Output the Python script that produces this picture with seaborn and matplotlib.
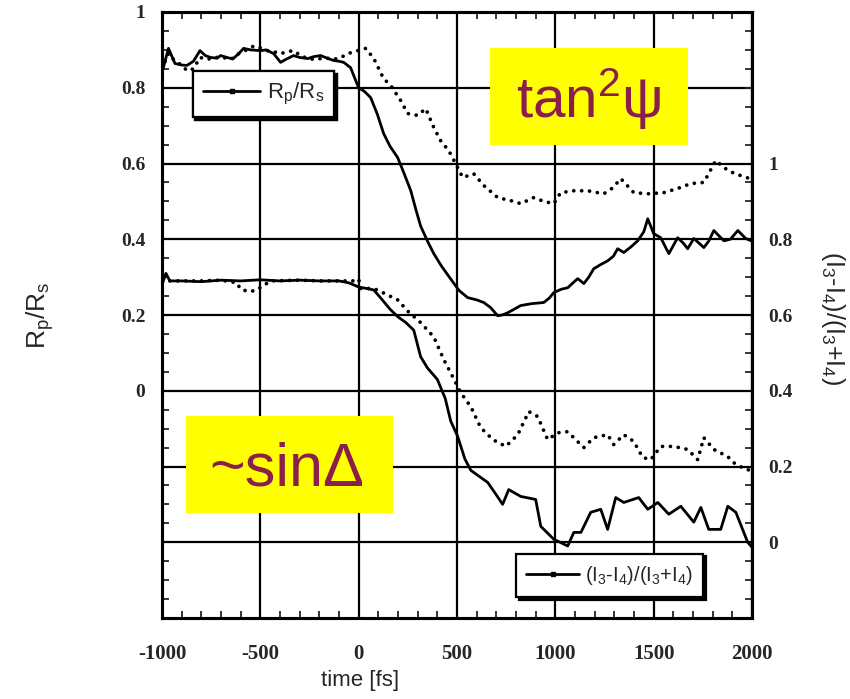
import numpy as np
import pandas as pd
import matplotlib
matplotlib.use("Agg")
import matplotlib.pyplot as plt
from matplotlib.lines import Line2D
from matplotlib.patches import Rectangle
from matplotlib.ticker import MultipleLocator, FixedLocator, FixedFormatter
import seaborn as sns

# ---------------- data ----------------
# R_p/R_s, solid (left axis)
t_rp_solid = [-1000, -967, -934, -900, -873, -840, -807, -780, -753, -720, -702, -670, -640, -610,
              -585, -550, -498, -470, -432, -397, -370, -331, -300, -259, -230, -193, -160, -127,
              -100, -76, -41, -15, 0, 30, 61, 95, 127, 160, 198, 230, 265, 290, 315, 350, 382,
              420, 468, 510, 554, 600, 636, 670, 707, 730, 758, 790, 824, 880, 941, 970, 992,
              1030, 1063, 1090, 1114, 1145, 1170, 1195, 1230, 1266, 1295, 1317, 1348, 1385,
              1419, 1450, 1470, 1500, 1536, 1577, 1622, 1650, 1673, 1704, 1730, 1755, 1780,
              1806, 1830, 1857, 1890, 1928, 1968, 2000]
v_rp_solid = [0.84, 0.904, 0.864, 0.86, 0.859, 0.87, 0.898, 0.885, 0.88, 0.878, 0.885, 0.88, 0.876,
              0.89, 0.904, 0.9, 0.898, 0.9, 0.89, 0.867, 0.875, 0.885, 0.88, 0.877, 0.882, 0.885,
              0.878, 0.872, 0.87, 0.867, 0.853, 0.819, 0.8, 0.79, 0.774, 0.73, 0.679, 0.645, 0.616,
              0.575, 0.528, 0.48, 0.435, 0.395, 0.362, 0.33, 0.295, 0.265, 0.246, 0.24, 0.233,
              0.22, 0.198, 0.2, 0.206, 0.215, 0.225, 0.23, 0.233, 0.245, 0.259, 0.268, 0.272,
              0.285, 0.296, 0.283, 0.3, 0.322, 0.333, 0.343, 0.355, 0.375, 0.365, 0.38, 0.396,
              0.42, 0.454, 0.415, 0.404, 0.362, 0.404, 0.39, 0.375, 0.402, 0.39, 0.378, 0.395,
              0.423, 0.41, 0.396, 0.4, 0.423, 0.402, 0.395]

# R_p/R_s, dotted (left axis)
t_rp_dot = [-1000, -967, -934, -900, -873, -840, -807, -770, -730, -690, -650, -610, -570, -534,
            -500, -466, -430, -397, -365, -331, -295, -259, -225, -193, -160, -127, -90, -56, -5,
            36, 77, 127, 163, 214, 249, 300, 341, 382, 417, 458, 493, 529, 585, 636, 707, 773,
            824, 890, 941, 992, 1027, 1094, 1165, 1246, 1290, 1333, 1399, 1470, 1551, 1622,
            1689, 1755, 1816, 1857, 1902, 1968, 2000]
v_rp_dot = [0.85, 0.89, 0.87, 0.86, 0.845, 0.85, 0.88, 0.875, 0.88, 0.88, 0.875, 0.89, 0.9, 0.91,
            0.905, 0.898, 0.895, 0.89, 0.895, 0.898, 0.885, 0.877, 0.875, 0.877, 0.878, 0.875,
            0.88, 0.89, 0.898, 0.904, 0.877, 0.824, 0.806, 0.766, 0.732, 0.727, 0.745, 0.695,
            0.66, 0.634, 0.6, 0.563, 0.573, 0.542, 0.51, 0.502, 0.494, 0.51, 0.5, 0.494, 0.523,
            0.528, 0.528, 0.52, 0.535, 0.56, 0.523, 0.52, 0.523, 0.534, 0.547, 0.55, 0.608,
            0.589, 0.576, 0.563, 0.56]

# (I3-I4)/(I3+I4), solid (right axis)
t_i_solid = [-1000, -980, -960, -900, -800, -700, -600, -500, -400, -300, -200, -100, -50, 0, 40,
             77, 120, 160, 200, 240, 280, 300, 315, 350, 400, 440, 468, 503, 540, 570, 610, 656,
             700, 732, 763, 824, 900, 926, 992, 1063, 1094, 1130, 1180, 1231, 1266, 1307, 1348,
             1424, 1470, 1521, 1577, 1638, 1704, 1740, 1780, 1841, 1877, 1918, 1978, 2000]
v_i_solid = [0.68, 0.71, 0.69, 0.69, 0.688, 0.692, 0.69, 0.693, 0.69, 0.692, 0.69, 0.69, 0.685,
             0.674, 0.67, 0.666, 0.64, 0.615, 0.595, 0.58, 0.56, 0.52, 0.49, 0.46, 0.43, 0.38,
             0.32, 0.28, 0.22, 0.19, 0.175, 0.158, 0.125, 0.1, 0.139, 0.121, 0.113, 0.042, 0.008,
             -0.01, 0.026, 0.026, 0.079, 0.087, 0.034, 0.118, 0.105, 0.118, 0.087, 0.105, 0.074,
             0.095, 0.053, 0.092, 0.034, 0.034, 0.095, 0.079, 0.0, -0.013]

# (I3-I4)/(I3+I4), dotted (right axis)
t_i_dot = [-1000, -900, -800, -700, -620, -600, -560, -520, -480, -440, -300, -200, -100, -30, 0,
           10, 77, 127, 198, 250, 315, 382, 433, 478, 519, 570, 620, 682, 748, 809, 865, 910,
           961, 1012, 1063, 1119, 1145, 1195, 1266, 1297, 1348, 1399, 1444, 1485, 1536, 1602,
           1673, 1724, 1755, 1806, 1877, 1907, 1968, 2000]
v_i_dot = [0.69, 0.69, 0.69, 0.692, 0.685, 0.668, 0.662, 0.665, 0.68, 0.69, 0.692, 0.69, 0.69,
           0.69, 0.695, 0.67, 0.67, 0.658, 0.64, 0.61, 0.58, 0.542, 0.482, 0.437, 0.395, 0.358,
           0.303, 0.271, 0.253, 0.284, 0.345, 0.332, 0.271, 0.289, 0.292, 0.263, 0.25, 0.276,
           0.284, 0.258, 0.284, 0.266, 0.224, 0.218, 0.253, 0.253, 0.245, 0.218, 0.276, 0.245,
           0.226, 0.21, 0.192, 0.19]

x_ticks = [-1000, -500, 0, 500, 1000, 1500, 2000]
x_tick_labels = ["-1000", "-500", "0", "500", "1000", "1500", "2000"]
left_ticks = [-0.4, -0.2, 0, 0.2, 0.4, 0.6, 0.8, 1.0]
left_tick_labels = ["", "", "0", "0.2", "0.4", "0.6", "0.8", "1"]
right_ticks = [0, 0.2, 0.4, 0.6, 0.8, 1.0]
right_tick_labels = ["0", "0.2", "0.4", "0.6", "0.8", "1"]

# ---------------- style ----------------
sns.set_style("white")
plt.rcParams["font.family"] = ["Liberation Sans", "DejaVu Sans"]
plt.rcParams["mathtext.fontset"] = "custom"
plt.rcParams["mathtext.rm"] = "Liberation Sans"
plt.rcParams["mathtext.it"] = "Liberation Sans"
plt.rcParams["mathtext.default"] = "regular"

fig = plt.figure(figsize=(8.5, 6.99), dpi=100)
W, H = 850, 699
ax = fig.add_axes([162 / W, 1 - 618 / H, (752 - 162) / W, (618 - 12) / H])
ax2 = ax.twinx()

solid_kw = dict(color="black", linewidth=2.0)
dot_kw = dict(color="black", linewidth=2.7, linestyle=(0, (0.01, 2.1)), dash_capstyle="round")

sns.lineplot(x=t_rp_solid, y=v_rp_solid, ax=ax, **solid_kw)
sns.lineplot(x=t_rp_dot, y=v_rp_dot, ax=ax, **dot_kw)
sns.lineplot(x=t_i_solid, y=v_i_solid, ax=ax2, **solid_kw)
sns.lineplot(x=t_i_dot, y=v_i_dot, ax=ax2, **dot_kw)

ax.set_xlim(-1000, 2000)
ax.set_ylim(-0.6, 1.0)
ax2.set_ylim(-0.2, 1.4)

ax.xaxis.set_major_locator(FixedLocator(x_ticks))
ax.xaxis.set_major_formatter(FixedFormatter(x_tick_labels))
ax.xaxis.set_minor_locator(MultipleLocator(100))
ax.yaxis.set_major_locator(FixedLocator(left_ticks))
ax.yaxis.set_major_formatter(FixedFormatter(left_tick_labels))
ax.yaxis.set_minor_locator(MultipleLocator(0.05))
ax2.yaxis.set_major_locator(FixedLocator(right_ticks))
ax2.yaxis.set_major_formatter(FixedFormatter(right_tick_labels))
ax2.yaxis.set_minor_locator(MultipleLocator(0.05))

ax.grid(True, which="major", color="black", linewidth=1.6)
ax2.grid(False)
for a in (ax, ax2):
    for s in a.spines.values():
        s.set_linewidth(2.2)
        s.set_color("black")

ax.tick_params(axis="both", which="major", direction="in", length=0, pad=12,
               labelsize=14, labelfontfamily="Liberation Serif", top=True, right=False)
ax.tick_params(axis="x", which="major", pad=19, labelsize=15)
ax.tick_params(axis="both", which="minor", direction="in", length=5, width=1.3,
               top=True, right=False, left=True, bottom=True)
ax2.tick_params(axis="y", which="major", direction="in", length=0, pad=12,
                labelsize=14, labelfontfamily="Liberation Serif")
ax2.tick_params(axis="y", which="minor", direction="in", length=5, width=1.3)
for lab in ax.get_xticklabels() + ax.get_yticklabels() + ax2.get_yticklabels():
    lab.set_fontweight("bold")

ax.set_xlabel("time [fs]", fontsize=16)
ax.xaxis.set_label_coords(0.336, -0.085)
ax.set_ylabel("R$_p$/R$_s$", fontsize=19)
ax.yaxis.set_label_coords(-0.18, 0.5)
ax2.set_ylabel("(I$_3$-I$_4$)/(I$_3$+I$_4$)", fontsize=18, rotation=-90, va="bottom")
ax2.yaxis.set_label_coords(1.113, 0.495)

# legends
h1 = [Line2D([], [], color="black", lw=2, marker="s", ms=3)]
leg1 = ax.legend(h1, ["R$_p$/R$_s$"], loc="upper left", bbox_to_anchor=(0.052, 0.903),
                 frameon=True, fancybox=False, shadow={"color": "black", "alpha": 1},
                 edgecolor="black", framealpha=1, fontsize=16, handlelength=2.6,
                 borderpad=0.45, handletextpad=0.3, borderaxespad=0)
leg1.get_frame().set_linewidth(1.6)
ax.add_artist(leg1)
h2 = [Line2D([], [], color="black", lw=2, marker="s", ms=3)]
leg2 = ax2.legend(h2, ["(I$_3$-I$_4$)/(I$_3$+I$_4$)"], loc="lower right",
                  bbox_to_anchor=(0.917, 0.035), frameon=True, fancybox=False,
                  shadow={"color": "black", "alpha": 1}, edgecolor="black", framealpha=1,
                  fontsize=14.5, handlelength=2.6, borderpad=0.5, handletextpad=0.3,
                  borderaxespad=0)
leg2.get_frame().set_linewidth(1.6)

# yellow annotation boxes
maroon = "#8a1f4a"
fig.add_artist(Rectangle((490 / W, 1 - 145 / H), 198 / W, 97 / H, transform=fig.transFigure,
                         facecolor="#ffff00", edgecolor="none", zorder=5))
fig.text(589 / W, 1 - 118 / H, "tan$^2$ψ", color=maroon, fontsize=42, ha="center",
         va="baseline", zorder=6)
fig.add_artist(Rectangle((186 / W, 1 - 513 / H), 207 / W, 97 / H, transform=fig.transFigure,
                         facecolor="#ffff00", edgecolor="none", zorder=5))
fig.text(287 / W, 1 - 485 / H, "~sinΔ", color=maroon, fontsize=44, ha="center",
         va="baseline", zorder=6)

fig.savefig("out.png", dpi=100, facecolor="white")
